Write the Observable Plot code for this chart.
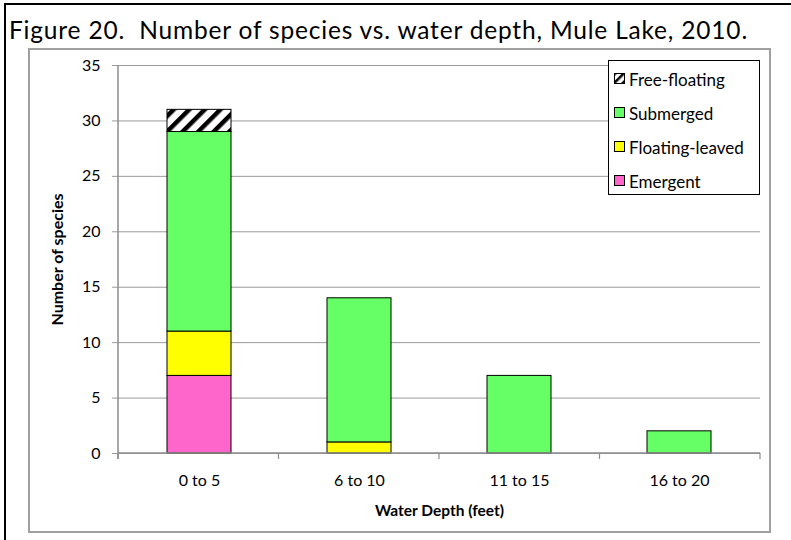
<!DOCTYPE html>
<html><head><meta charset="utf-8">
<script src="https://cdn.jsdelivr.net/npm/d3@7"></script>
<script src="https://cdn.jsdelivr.net/npm/@observablehq/plot@0.6"></script>
<style>
body{margin:0;background:#fff;}
#wrap{position:relative;width:791px;height:540px;overflow:hidden;font-family:Lato,"Open Sans",sans-serif;color:#000;}
#outer{position:absolute;left:4px;top:3px;width:820px;height:600px;border-left:2px solid #000;border-top:2px solid #000;}
#inner{position:absolute;left:28px;top:48px;width:739px;height:481px;border:2px solid #a0a0a0;}
#title{position:absolute;left:9px;top:15px;font-size:24.5px;white-space:nowrap;}
#chart{position:absolute;left:0;top:0;}
#legend{position:absolute;left:608px;top:60px;width:150px;height:133px;border:1.5px solid #000;background:#fff;}
.item{position:absolute;left:5px;height:22px;display:flex;align-items:center;font-size:17px;white-space:nowrap;}
.item svg{margin-right:3px;}
</style></head>
<body>
<div id="wrap">
  <div id="outer"></div>
  <div id="inner"></div>
  <div id="chart"></div>
  <div id="title">Figure 20.&nbsp; Number of species vs. water depth, Mule Lake, 2010.</div>
  <div id="legend"></div>
</div>
<script>
// ---- data ----
const categories = ["0 to 5", "6 to 10", "11 to 15", "16 to 20"];
const seriesNames = ["Emergent", "Floating-leaved", "Submerged", "Free-floating"];
const emergent = [7, 0, 0, 0];
const floatingLeaved = [4, 1, 0, 0];
const submerged = [18, 13, 7, 2];
const freeFloating = [2, 0, 0, 0];
const yTicks = [0, 5, 10, 15, 20, 25, 30, 35];
const seriesColors = ["#FF66CC", "#FFFF00", "#66FF66", "url(#hatch)"];
const legendOrder = ["Free-floating", "Submerged", "Floating-leaved", "Emergent"];

const valuesBySeries = [emergent, floatingLeaved, submerged, freeFloating];
const rows = [];
seriesNames.forEach((s, si) => categories.forEach((c, ci) => rows.push({depth: c, series: s, count: valuesBySeries[si][ci]})));

const W = 791, H = 540;
const chart = Plot.plot({
  width: W, height: H,
  marginLeft: 118, marginRight: 31, marginTop: 65, marginBottom: 87,
  style: {fontFamily: "Lato, 'Open Sans', sans-serif", background: "transparent", color: "#000"},
  x: {domain: categories, paddingInner: 0.6, paddingOuter: 0.3},
  y: {domain: [0, 35]},
  color: {domain: seriesNames, range: seriesColors},
  marks: [
    Plot.gridY(yTicks, {stroke: "#9a9a9a", strokeOpacity: 1, strokeWidth: 1}),
    Plot.axisY(yTicks, {tickSize: 6, tickPadding: 12, fontSize: 16, stroke: "#9a9a9a", label: null}),
    Plot.axisX({tickSize: 0, tickPadding: 21, fontSize: 16, label: null}),
    Plot.barY(rows, Plot.stackY({x: "depth", y: "count", fill: "series", order: seriesNames, stroke: "#000", strokeWidth: 1})),
    Plot.text(["Number of species"], {frameAnchor: "left", textAnchor: "middle", rotate: -90, dx: -61, fontSize: 16, fontWeight: "bold"}),
    Plot.text(["Water Depth (feet)"], {frameAnchor: "bottom", dy: 62, fontSize: 15.5, fontWeight: "bold"})
  ]
});
document.getElementById("chart").appendChild(chart);

// hatch pattern + axis line + boundary ticks using plot scales
const svg = d3.select(chart);
svg.insert("defs", ":first-child").html(
  `<pattern id="hatch" patternUnits="userSpaceOnUse" width="11" height="11" patternTransform="rotate(45)">
     <rect width="11" height="11" fill="#fff"/><rect width="4.5" height="11" fill="#000"/></pattern>`);
const xs = chart.scale("x"), ys = chart.scale("y");
const x0 = xs.range[0], x1 = xs.range[1];
const y0 = ys.apply(0), yTop = ys.apply(35);
const g = svg.append("g").attr("stroke", "#8c8c8c");
g.append("line").attr("x1", x0).attr("x2", x0).attr("y1", yTop).attr("y2", y0 + 6).attr("stroke-width", 1.5);
g.append("line").attr("x1", x0).attr("x2", x1).attr("y1", y0).attr("y2", y0).attr("stroke-width", 1.5);
const step = (x1 - x0) / categories.length;
d3.range(categories.length + 1).forEach(i => {
  g.append("line").attr("x1", x0 + i * step).attr("x2", x0 + i * step).attr("y1", y0).attr("y2", y0 + 6).attr("stroke-width", 1.2);
});

// fit title width to the reference span
const title = document.getElementById("title");
const tw = title.getBoundingClientRect().width;
const n = title.textContent.length;
title.style.letterSpacing = ((739 - tw) / n) + "px";

// legend
const leg = document.getElementById("legend");
const rowTops = [7, 41, 75, 109];
legendOrder.forEach((name, i) => {
  const color = seriesColors[seriesNames.indexOf(name)];
  const div = document.createElement("div");
  div.className = "item";
  div.style.top = rowTops[i] + "px";
  const fill = color.startsWith("url") ? "url(#hatchL)" : color;
  div.innerHTML = `<svg width="12" height="12"><defs><pattern id="hatchL" patternUnits="userSpaceOnUse" width="6" height="6" patternTransform="rotate(45)"><rect width="6" height="6" fill="#fff"/><rect width="2.5" height="6" fill="#000"/></pattern></defs><rect x="0.5" y="0.5" width="10" height="10" fill="${fill}" stroke="#000"/></svg><span>${name}</span>`;
  leg.appendChild(div);
});
</script>
</body></html>
